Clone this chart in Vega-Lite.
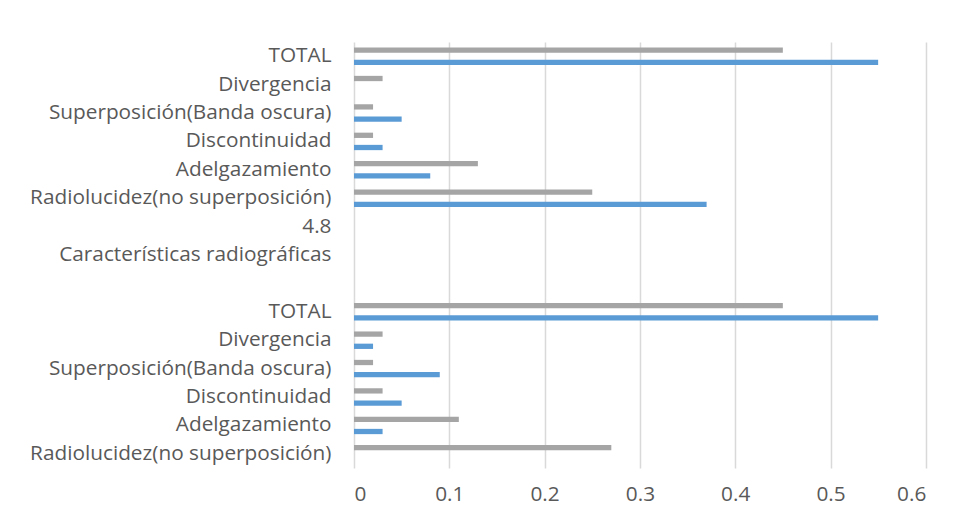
{
  "$schema": "https://vega.github.io/schema/vega-lite/v6.json",
  "width": 571.8,
  "height": 426,
  "autosize": "none",
  "padding": {"left": 354, "top": 42, "right": 30, "bottom": 53},
  "background": "white",
  "data": {
    "values": [
      {"cat": "00|TOTAL", "series": "A", "value": 0.45},
      {"cat": "00|TOTAL", "series": "B", "value": 0.55},
      {"cat": "01|Divergencia", "series": "A", "value": 0.03},
      {"cat": "01|Divergencia", "series": "B", "value": 0},
      {"cat": "02|Superposición(Banda oscura)", "series": "A", "value": 0.02},
      {"cat": "02|Superposición(Banda oscura)", "series": "B", "value": 0.05},
      {"cat": "03|Discontinuidad", "series": "A", "value": 0.02},
      {"cat": "03|Discontinuidad", "series": "B", "value": 0.03},
      {"cat": "04|Adelgazamiento", "series": "A", "value": 0.13},
      {"cat": "04|Adelgazamiento", "series": "B", "value": 0.08},
      {"cat": "05|Radiolucidez(no superposición)", "series": "A", "value": 0.25},
      {"cat": "05|Radiolucidez(no superposición)", "series": "B", "value": 0.37},
      {"cat": "09|TOTAL", "series": "A", "value": 0.45},
      {"cat": "09|TOTAL", "series": "B", "value": 0.55},
      {"cat": "10|Divergencia", "series": "A", "value": 0.03},
      {"cat": "10|Divergencia", "series": "B", "value": 0.02},
      {"cat": "11|Superposición(Banda oscura)", "series": "A", "value": 0.02},
      {"cat": "11|Superposición(Banda oscura)", "series": "B", "value": 0.09},
      {"cat": "12|Discontinuidad", "series": "A", "value": 0.03},
      {"cat": "12|Discontinuidad", "series": "B", "value": 0.05},
      {"cat": "13|Adelgazamiento", "series": "A", "value": 0.11},
      {"cat": "13|Adelgazamiento", "series": "B", "value": 0.03},
      {"cat": "14|Radiolucidez(no superposición)", "series": "A", "value": 0.27},
      {"cat": "14|Radiolucidez(no superposición)", "series": "B", "value": 0}
    ]
  },
  "mark": {"type": "bar"},
  "encoding": {
    "y": {
      "field": "cat",
      "type": "nominal",
      "scale": {
        "domain": ["00|TOTAL", "01|Divergencia", "02|Superposición(Banda oscura)", "03|Discontinuidad", "04|Adelgazamiento", "05|Radiolucidez(no superposición)", "06|4.8", "07|Características radiográficas", "08|", "09|TOTAL", "10|Divergencia", "11|Superposición(Banda oscura)", "12|Discontinuidad", "13|Adelgazamiento", "14|Radiolucidez(no superposición)"],
        "paddingInner": 0,
        "paddingOuter": 0
      },
      "axis": {
        "title": null,
        "domain": false,
        "ticks": false,
        "labelPadding": 23,
        "labelExpr": "split(datum.value, '|')[1]",
        "labelFont": "Open Sans",
        "labelFontSize": 20.8,
        "labelColor": "#595959",
        "labelLimit": 400
      }
    },
    "yOffset": {
      "field": "series",
      "scale": {"domain": ["A", "B"], "paddingInner": 0.566, "paddingOuter": 0.447}
    },
    "x": {
      "field": "value",
      "type": "quantitative",
      "scale": {"domain": [0, 0.6], "nice": false},
      "axis": {
        "title": null,
        "values": [0, 0.1, 0.2, 0.3, 0.4, 0.5, 0.6],
        "format": "~g",
        "domain": false,
        "ticks": false,
        "grid": true,
        "gridColor": "#d9d9d9",
        "gridWidth": 1.5,
        "labelPadding": 17,
        "labelFont": "Open Sans",
        "labelFontSize": 20.8,
        "labelColor": "#595959"
      }
    },
    "color": {
      "field": "series",
      "type": "nominal",
      "scale": {"domain": ["A", "B"], "range": ["#a5a5a5", "#5b9bd5"]},
      "legend": null
    }
  },
  "config": {"view": {"stroke": null}}
}
